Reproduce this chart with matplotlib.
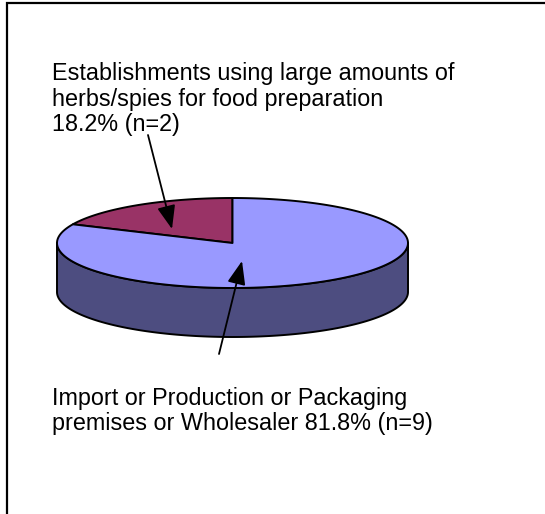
import numpy as np
import matplotlib
matplotlib.use("Agg")
import matplotlib.pyplot as plt
from matplotlib.patches import Polygon

# Premise categories and counts
labels = [
    "Establishments using large amounts of\nherbs/spies for food preparation\n18.2% (n=2)",
    "Import or Production or Packaging\npremises or Wholesaler 81.8% (n=9)",
]
counts = [2, 9]
top_colors = ["#993366", "#9999FF"]
side_colors = ["#4C1933", "#4D4D80"]

plt.rcParams["font.family"] = ["Liberation Sans", "DejaVu Sans"]

fig = plt.figure(figsize=(5.45, 5.14), dpi=100)
ax = fig.add_axes([0, 0, 1, 1])
ax.set_xlim(0, 545)
ax.set_ylim(514, 0)
ax.axis("off")

# Pie geometry (pixel space, y down)
cx, cy = 232.5, 243.0
rx, ry = 175.5, 45.0
depth = 49.0
edge = dict(edgecolor="black", linewidth=1.4, joinstyle="round")


def ellipse_pts(t0, t1, dy=0.0, n=200):
    t = np.radians(np.linspace(t0, t1, n))
    return np.column_stack([cx + rx * np.cos(t), cy - ry * np.sin(t) + dy])


fracs = np.array(counts) / np.sum(counts)
angles = 90 + np.concatenate([[0], np.cumsum(fracs) * 360])

# Visible side wall: front half of the pie (angles 180..360)
for i in range(len(counts)):
    a0, a1 = angles[i], angles[i + 1]
    for lo, hi in [(180, 360), (540, 720)]:
        s0, s1 = max(a0, lo), min(a1, hi)
        if s1 <= s0:
            continue
        top = ellipse_pts(s0, s1)
        bot = ellipse_pts(s1, s0, dy=depth)
        ax.add_patch(Polygon(np.vstack([top, bot]), closed=True,
                             facecolor=side_colors[i], **edge))

# Top face wedges
for i in range(len(counts)):
    arc = ellipse_pts(angles[i], angles[i + 1])
    pts = np.vstack([[cx, cy], arc])
    ax.add_patch(Polygon(pts, closed=True, facecolor=top_colors[i], **edge))

# Labels with arrows
arrow = dict(arrowstyle="-|>,head_length=0.9,head_width=0.35", color="black",
             linewidth=1.3, shrinkA=0, shrinkB=0, mutation_scale=16)
ax.text(52, 62, labels[0], fontsize=16.8, va="top", ha="left",
        linespacing=1.15)
ax.annotate("", xy=(172, 229), xytext=(148, 135), arrowprops=arrow)

ax.text(52, 386.5, labels[1], fontsize=16.8, va="top", ha="left",
        linespacing=1.15)
ax.annotate("", xy=(242, 261), xytext=(219, 354), arrowprops=arrow)

# Chart area frame (left and top edges)
ax.plot([7, 7, 545], [514, 2.5, 2.5], color="black", linewidth=1.6,
        solid_joinstyle="miter")

fig.savefig("out.png", dpi=100)
